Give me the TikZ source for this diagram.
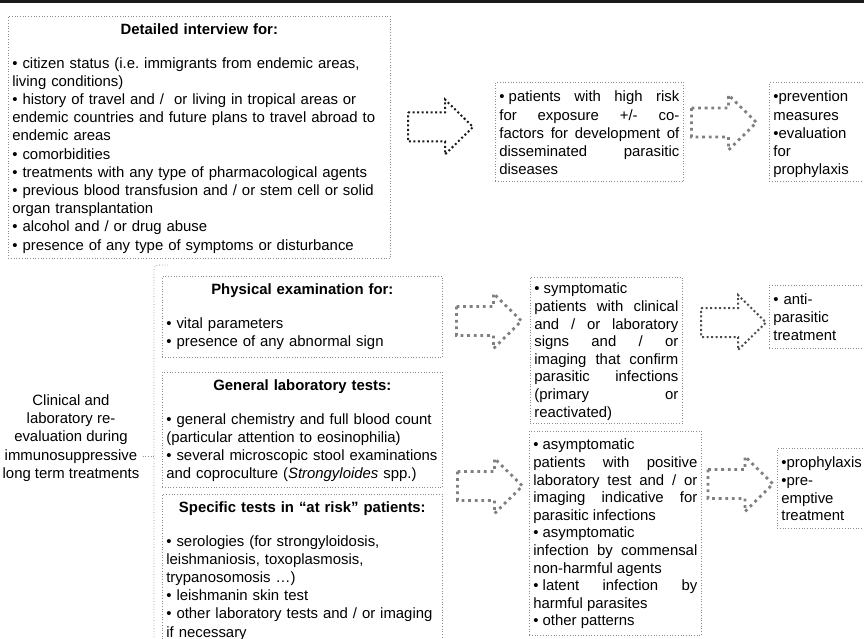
\documentclass[tikz,border=0pt]{standalone}
\usepackage{fontspec}
\setmainfont{Liberation Sans}
\definecolor{cbord}{gray}{0.55}
\definecolor{cfleche}{gray}{0.5}
\definecolor{csombre}{gray}{0.1}
\setlength{\parindent}{0pt}
\tolerance=10000 \hbadness=10000 \hyphenpenalty=10000
\frenchspacing
% hauteur de la premiere ligne, profondeur de la derniere
\newcommand{\hautligne}[1]{\rule{0pt}{#1}}
\newcommand{\basligne}[1]{\rule[-#1]{0pt}{0pt}}

\tikzset{
  fleche/.pic={
    \draw (-32,-14.5) -- (5,-14.5) -- (5,-27.5) -- (33,0)
      -- (5,27.5) -- (5,14.5) -- (-32,14.5) -- cycle;}}

\begin{document}
\begin{tikzpicture}[x=1pt, y=-1pt,
    cadre/.style={draw=cbord, dotted, line width=0.7pt, anchor=north west,
                  inner xsep=4pt, inner ysep=0pt,
                  font=\fontsize{14.9}{18.2}\selectfont},
    serre/.style={cadre, font=\fontsize{14.9}{17.6}\selectfont},
    fl/.style={color=csombre, line width=2pt, dash pattern=on 2pt off 2.5pt},
    flg/.style={color=cfleche, line width=2.8pt, dash pattern=on 2.8pt off 3.8pt},
    accolade/.style={draw=cbord, dotted, line width=0.7pt}]

  \useasboundingbox (0,0) rectangle (864,639);
  \clip (0,0) rectangle (864,639);
  \fill[csombre] (0,0) rectangle (864,3.5);

  % premiere visite
  \node[cadre, text width=374pt, align=left] (entretien) at (8,16) {%
    \hautligne{18.5pt}\makebox[\hsize]{\textbf{Detailed interview for:}}\\[15pt]
    • citizen status (i.e. immigrants from endemic areas,\\
    living conditions)\\
    • history of travel and /\ \ or living in tropical areas or\\
    endemic countries and future plans to travel abroad to\\
    endemic areas\\
    • comorbidities\\
    • treatments with any type of pharmacological agents\\
    • previous blood transfusion and / or stem cell or solid\\
    organ transplantation\\
    • alcohol and / or drug abuse\\
    • presence of any type of symptoms or disturbance\basligne{8.3pt}};

  \node[cadre, text width=180pt, align=justify] (risque) at (495,82) {%
    \hautligne{19.5pt}•\hspace{.28em}patients with high risk\linebreak
    for exposure +/- co-\linebreak
    factors for development of\linebreak
    disseminated parasitic\linebreak
    diseases\basligne{6.7pt}};

  \node[cadre, text width=112pt, align=left] (prev) at (769,82) {%
    \hautligne{19.5pt}•prevention\\ measures\\ •evaluation\\ for\\
    prophylaxis\basligne{6.7pt}};

  % suivi
  \node[font=\fontsize{14.9}{18.2}\selectfont, align=center] (clin) at (71,438) {%
    Clinical and\\ laboratory re-\\ evaluation during\\ immunosuppressive\\ long term treatments};

  \node[cadre, text width=272pt, align=left] (examen) at (162,276) {%
    \hautligne{18.5pt}\makebox[\hsize]{\textbf{Physical examination for:}}\\[15pt]
    • vital parameters\\
    • presence of any abnormal sign\basligne{11.1pt}};

  \node[cadre, text width=272pt, align=left] (labo) at (162,372) {%
    \hautligne{18.5pt}\makebox[\hsize]{\textbf{General laboratory tests:}}\\[15pt]
    • general chemistry and full blood count\\
    (particular attention to eosinophilia)\\
    • several microscopic stool examinations\\
    and coproculture (\textit{Strongyloides} spp.)\basligne{8.7pt}};

  \node[cadre, text width=272pt, align=left] (tests) at (162,494) {%
    \hautligne{18.5pt}\makebox[\hsize]{\textbf{Specific tests in “at risk” patients:}}\\[15pt]
    • serologies (for strongyloidosis,\\
    leishmaniosis, toxoplasmosis,\\
    trypanosomosis …)\\
    • leishmanin skin test\\
    • other laboratory tests and / or imaging\\
    if necessary\basligne{20pt}};

  \node[serre, text width=144pt, align=justify] (sympt) at (530,277) {%
    \hautligne{16.5pt}• symptomatic\newline
    patients with clinical\linebreak
    and / or laboratory\linebreak
    signs and / or\linebreak
    imaging that confirm\linebreak
    parasitic infections\linebreak
    (primary or\linebreak
    reactivated)\basligne{6.3pt}};

  \node[serre, text width=112pt, align=left] (traite) at (769,285) {%
    \hautligne{19.5pt}• anti-\\ parasitic\\ treatment\basligne{8.3pt}};

  \node[serre, text width=164pt, align=justify] (asympt) at (529,431) {%
    \hautligne{18.5pt}• asymptomatic\newline
    patients with positive\linebreak
    laboratory test and / or\linebreak
    imaging indicative for\linebreak
    parasitic infections\newline
    • asymptomatic\newline
    infection by commensal\linebreak
    non-harmful agents\newline
    •\hspace{.28em}latent infection by\linebreak
    harmful parasites\newline
    • other patterns\basligne{9.5pt}};

  \node[serre, text width=112pt, align=left] (proph) at (777,448) {%
    \hautligne{19.5pt}•prophylaxis\\ •pre-\\ emptive\\ treatment\basligne{7.7pt}};

  % accolade
  \coordinate (acc haut) at (168,265);
  \coordinate (acc pointe) at (154,456);
  \coordinate (acc bas) at (154,650);
  \draw[accolade, rounded corners=4pt] (acc haut) -- (154,265) -- (acc bas);
  \draw[accolade] (acc pointe) -- (clin.east |- acc pointe);

  % fleches
  \pic[fl] at (440,127) {fleche};
  \pic[flg] at (723.5,122.5) {fleche};
  \pic[flg] at (488.5,321) {fleche};
  \pic[fl, color=cfleche!60!black] at (733,322.5) {fleche};
  \pic[flg] at (489.5,486) {fleche};
  \pic[flg] at (740,484) {fleche};
\end{tikzpicture}
\end{document}
